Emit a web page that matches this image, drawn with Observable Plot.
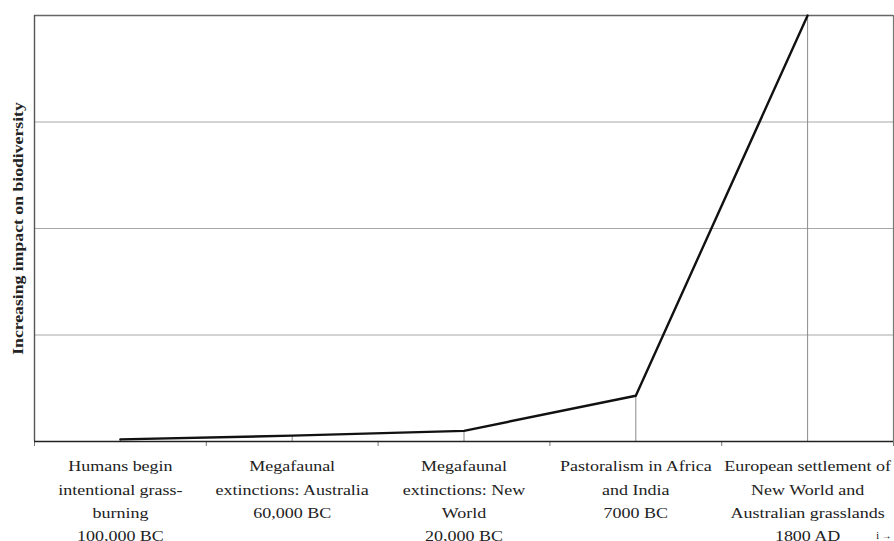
<!DOCTYPE html>
<html>
<head>
<meta charset="utf-8">
<script src="https://cdn.jsdelivr.net/npm/d3@7"></script>
<script src="https://cdn.jsdelivr.net/npm/@observablehq/plot@0.6"></script>
<style>
  html, body { margin: 0; padding: 0; background: #fff; }
  #chart svg { display: block; }
</style>
</head>
<body>
<div id="chart"></div>
<script>
const categories = [
  "Humans begin\nintentional grass-\nburning\n100,000 BC",
  "Megafaunal\nextinctions: Australia\n60,000 BC",
  "Megafaunal\nextinctions: New\nWorld\n20,000 BC",
  "Pastoralism in Africa\nand India\n7000 BC",
  "European settlement of\nNew World and\nAustralian grasslands\n1800 AD"
];
const values = [0.02, 0.055, 0.1, 0.43, 4];
const yGrid = [1, 2, 3];
const yMax = 4;
const yLabel = "Increasing impact on biodiversity";

const data = categories.map((c, i) => ({i, label: c, value: values[i]}));
const bounds = d3.range(-0.5, categories.length, 1);

const chart = Plot.plot({
  width: 894,
  height: 541,
  marginLeft: 34,
  marginRight: 1,
  marginTop: 15,
  marginBottom: 100,
  style: {fontFamily: "'Liberation Serif', 'Times New Roman', serif", background: "#fff"},
  x: {type: "linear", domain: [-0.5, categories.length - 0.5], axis: null},
  y: {domain: [0, yMax], axis: null},
  marks: [
    Plot.ruleY(yGrid, {stroke: "#a8a8a8", strokeWidth: 1}),
    Plot.ruleY([yMax], {stroke: "#666", strokeWidth: 1.3}),
    Plot.ruleX([categories.length - 0.5], {stroke: "#777", strokeWidth: 1.2}),
    Plot.ruleX(data, {x: "i", y1: 0, y2: "value", stroke: "#8a8a8a", strokeWidth: 1}),
    Plot.ruleX([-0.5], {stroke: "#555", strokeWidth: 1.4}),
    Plot.axisX({ticks: bounds, tickFormat: () => "", tickSize: 5, stroke: "#777"}),
    Plot.ruleY([0], {stroke: "#222", strokeWidth: 1.6}),
    Plot.line(data, {x: "i", y: "value", stroke: "#111", strokeWidth: 2.4}),
    Plot.text(data, {x: "i", frameAnchor: "bottom", text: "label", lineAnchor: "top", dy: 13, lineHeight: 1.56, fontSize: 15, fill: "#222", className: "xlab"}),
    Plot.text([yLabel], {frameAnchor: "left", textAnchor: "middle", rotate: -90, dx: -16, fontSize: 15, fontWeight: "bold", fill: "#222", className: "ylab"})
  ]
});
// horizontally widen the serif glyphs to match the reference's proportions
d3.select(chart).selectAll(".xlab text").each(function() {
  this.setAttribute("transform", (this.getAttribute("transform") || "") + " scale(1.2,1)");
});
d3.select(chart).selectAll(".ylab text").each(function() {
  this.setAttribute("transform", (this.getAttribute("transform") || "") + " scale(1.18,1)");
});
document.getElementById("chart").append(chart);
</script>
</body>
</html>
